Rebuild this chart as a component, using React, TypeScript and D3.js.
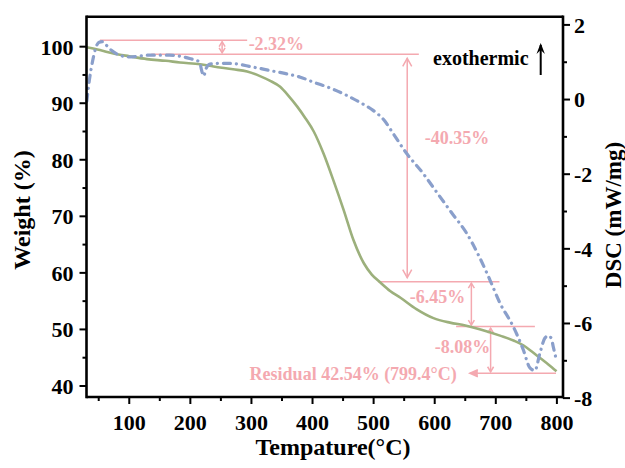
import React from "react";
import * as d3 from "d3";

// ---- Data ----
const tgTemp = [30, 52, 74, 100, 129, 160, 183, 216, 238, 270, 293, 314, 330, 347, 360, 375, 388, 402, 418, 434, 451, 467, 484, 497, 511, 527, 544, 570, 598, 625, 650, 675, 707, 730, 745, 760, 773, 786, 799.4];
const tgWeight = [99.9, 99.4, 98.8, 98.3, 97.8, 97.5, 97.2, 96.9, 96.5, 96.0, 95.6, 94.8, 94.0, 92.9, 91.4, 89.4, 87.4, 85.0, 81.1, 76.4, 71.1, 65.8, 61.7, 59.7, 58.3, 56.8, 55.6, 53.6, 52.0, 51.2, 50.7, 50.0, 48.9, 48.0, 47.2, 46.0, 44.9, 43.8, 42.6];

const dscTemp = [30.5, 34.7, 40.2, 45.7, 51.1, 57, 62.3, 70, 78.7, 90, 100.5, 115, 127.8, 166, 198.8, 215, 218.5, 221.7, 226, 232, 250, 264.3, 302.5, 330, 354.4, 380, 400.8, 430, 455.5, 478, 499.1, 517, 532, 553.8, 581, 604, 628, 652.2, 672, 690.3, 706.7, 728.5, 744.9, 755.9, 764, 772.3, 780.4, 785.9, 791, 794, 798.5];
const dscValue = [-0.05, 0.52, 1.05, 1.41, 1.54, 1.55, 1.46, 1.33, 1.23, 1.16, 1.14, 1.16, 1.19, 1.19, 1.1, 1.01, 0.78, 0.63, 0.84, 0.95, 0.97, 0.97, 0.87, 0.78, 0.7, 0.6, 0.47, 0.3, 0.115, -0.08, -0.29, -0.55, -0.91, -1.44, -1.98, -2.5, -3.04, -3.58, -4.18, -4.83, -5.45, -6.08, -6.7, -7.19, -7.26, -6.79, -6.39, -6.33, -6.4, -6.62, -6.93];

const xTicks = [100, 200, 300, 400, 500, 600, 700, 800];
const xMinorTicks = [50, 150, 250, 350, 450, 550, 650, 750];
const weightTicks = [40, 50, 60, 70, 80, 90, 100];
const weightMinorTicks = [45, 55, 65, 75, 85, 95];
const dscTicks = [-8, -6, -4, -2, 0, 2];
const dscMinorTicks = [-7, -5, -3, -1, 1];

// mass-loss step annotations (weight levels in %)
const stepLevels = [101.15, 98.65, 58.45, 50.5, 42.25];
const stepLineFrom = [52, 136, 507, 635, 657.5];
const stepLineTo = [293, 574, 706, 764, 798.5];
const stepArrowTemp = [252, 555, 660, 691.5];
const stepLabels = ["-2.32%", "-40.35%", "-6.45%", "-8.08%", "Residual 42.54% (799.4°C)"];
const stepLabelTemp = [295.4, 583.8, 559.3, 600.2, 297];
const stepLabelWeight = [99.4, 82.8, 54.7, 45.8, 41.06];

export default function App() {
  const W = 625, H = 468;
  const L = 86.5, R = 563, T = 16.7, B = 397;
  const x = d3.scaleLinear().domain([30, 810]).range([L, R]);
  const yW = d3.scaleLinear().domain([38.05, 105.3]).range([B, T]);
  const yD = d3.scaleLinear().domain([-7.97, 2.22]).range([B, T]);

  const tgLine = d3.line<number>()
    .x((_, i) => x(tgTemp[i]))
    .y((d) => yW(d))
    .curve(d3.curveMonotoneX);
  const dscLine = d3.line<number>()
    .x((_, i) => x(dscTemp[i]))
    .y((d) => yD(d))
    .curve(d3.curveMonotoneX);

  const font = "'Liberation Serif', 'Times New Roman', 'DejaVu Serif', serif";
  const pink = "#F4A9B0";
  const green = "#9CB07C";
  const blue = "#8A9FCB";

  const arrowV = (ax: number, y1: number, y2: number, key: string) => {
    const big = Math.abs(y2 - y1) > 100;
    const gap = big ? 4 : 1.5;
    const hw = big ? 4.5 : 3;
    const hl = big ? 8 : 5;
    const top = y1 + gap, bot = y2 - gap;
    return (
      <g key={key} stroke={pink} strokeWidth={1.5} fill="none">
        <line x1={ax} x2={ax} y1={top} y2={bot} />
        <path d={`M${ax - hw},${top + hl} L${ax},${top} L${ax + hw},${top + hl}`} />
        <path d={`M${ax - hw},${bot - hl} L${ax},${bot} L${ax + hw},${bot - hl}`} />
      </g>
    );
  };

  const textStyle = { fontFamily: font, fontWeight: 700 } as React.CSSProperties;

  return (
    <svg width={W} height={H} style={{ position: "absolute", left: 0, top: 0, background: "#fff" }}>
      {/* annotations */}
      <g stroke={pink} strokeWidth={1.5}>
        {stepLevels.map((lv, i) => (
          <line key={"sl" + i} x1={x(stepLineFrom[i])} x2={x(stepLineTo[i])} y1={yW(lv)} y2={yW(lv)} />
        ))}
      </g>
      {stepArrowTemp.map((t, i) => arrowV(x(t), yW(stepLevels[i]), yW(stepLevels[i + 1]), "ar" + i))}
      <path
        d={`M${x(stepLineFrom[4]) + 8},${yW(stepLevels[4]) - 3.5} L${x(stepLineFrom[4])},${yW(stepLevels[4])} L${x(stepLineFrom[4]) + 8},${yW(stepLevels[4]) + 3.5}`}
        stroke={pink} strokeWidth={1.5} fill={pink}
      />
      {stepLabels.map((s, i) => (
        <text key={"lb" + i} x={x(stepLabelTemp[i])} y={yW(stepLabelWeight[i])} fill={pink} fontSize={18} style={textStyle}>{s}</text>
      ))}

      {/* curves */}
      <path d={tgLine(tgWeight) || ""} fill="none" stroke={green} strokeWidth={2.6} />
      <path d={dscLine(dscValue) || ""} fill="none" stroke={blue} strokeWidth={3.2} strokeDasharray="7,6,0.1,6" strokeLinecap="round" />

      {/* exothermic */}
      <text x={433} y={65} fontSize={20} fill="#000" style={textStyle}>exothermic</text>
      <line x1={540.7} x2={540.7} y1={75} y2={45} stroke="#000" strokeWidth={2} />
      <path d="M536.5,54 L540.7,43 L544.9,54 L540.7,50 Z" fill="#000" />

      {/* frame */}
      <g stroke="#000" strokeWidth={2.6} fill="none">
        <line x1={L} x2={R} y1={T} y2={T} />
        <line x1={L} x2={R} y1={B} y2={B} />
        <line x1={L} x2={L} y1={T - 1.3} y2={B + 1.3} />
        <line x1={R} x2={R} y1={T - 1.3} y2={B + 1.3} />
      </g>

      {/* bottom axis */}
      <g stroke="#000" strokeWidth={2}>
        {xTicks.map((t) => <line key={"xt" + t} x1={x(t)} x2={x(t)} y1={B} y2={B + 7} />)}
        {xMinorTicks.map((t) => <line key={"xm" + t} x1={x(t)} x2={x(t)} y1={B} y2={B + 4} />)}
      </g>
      {xTicks.map((t) => (
        <text key={"xl" + t} x={x(t)} y={430} textAnchor="middle" fontSize={22} style={textStyle}>{t}</text>
      ))}
      <text x={333} y={455} textAnchor="middle" fontSize={24} style={textStyle}>Tempature(°C)</text>

      {/* left axis */}
      <g stroke="#000" strokeWidth={2}>
        {weightTicks.map((t) => <line key={"wt" + t} x1={L - 7} x2={L} y1={yW(t)} y2={yW(t)} />)}
        {weightMinorTicks.map((t) => <line key={"wm" + t} x1={L - 4} x2={L} y1={yW(t)} y2={yW(t)} />)}
      </g>
      {weightTicks.map((t) => (
        <text key={"wl" + t} x={L - 13} y={yW(t)} dy="0.36em" textAnchor="end" fontSize={22} style={textStyle}>{t}</text>
      ))}
      <text transform="translate(30,210) rotate(-90)" textAnchor="middle" fontSize={24} style={textStyle}>Weight (%)</text>

      {/* right axis */}
      <g stroke="#000" strokeWidth={2}>
        {dscTicks.map((t) => <line key={"dt" + t} x1={R} x2={R + 7} y1={yD(t)} y2={yD(t)} />)}
        {dscMinorTicks.map((t) => <line key={"dm" + t} x1={R} x2={R + 4} y1={yD(t)} y2={yD(t)} />)}
      </g>
      {dscTicks.map((t) => (
        <text key={"dl" + t} x={R + 11} y={yD(t)} dy="0.36em" textAnchor="start" fontSize={22} style={textStyle}>{t}</text>
      ))}
      <text transform="translate(621,215) rotate(-90)" textAnchor="middle" fontSize={23} style={textStyle}>DSC (mW/mg)</text>
    </svg>
  );
}
